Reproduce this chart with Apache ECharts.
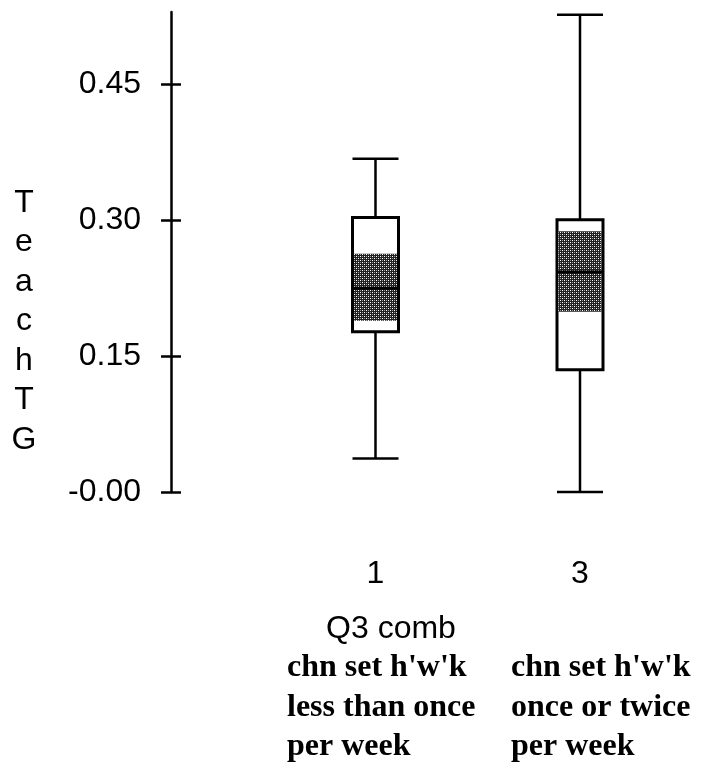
<!DOCTYPE html>
<html>
<head>
<meta charset="utf-8">
<script src="https://cdn.jsdelivr.net/npm/echarts@6/dist/echarts.min.js"></script>
<style>
  html, body { margin: 0; padding: 0; background: #fff; }
  #main { width: 715px; height: 769px; }
</style>
</head>
<body>
<div id="main"></div>
<script>
const categories = ['', '1', '3']
const whiskerLow = [0.037, 0.0]
const q1 = [0.177, 0.135]
const median = [0.225, 0.243]
const q3 = [0.303, 0.3005]
const whiskerHigh = [0.368, 0.527]
const ciLow = [0.189, 0.199]
const ciHigh = [0.263, 0.288]
const tickValues = [0, 0.15, 0.30, 0.45]
const tickLabels = ['-0.00', '0.15', '0.30', '0.45']
const groupNotes = [
  "chn set h'w'k\nless than once\nper week",
  "chn set h'w'k\nonce or twice\nper week"
]

// stippled fill for the shaded band
function stipple () {
  const c = document.createElement('canvas')
  c.width = 4
  c.height = 4
  const ctx = c.getContext('2d')
  ctx.fillStyle = '#222'
  ctx.fillRect(0, 0, 4, 4)
  ctx.fillStyle = '#fff'
  ctx.fillRect(0, 0, 1, 1)
  ctx.fillRect(2, 2, 1, 1)
  ctx.fillStyle = '#999'
  ctx.fillRect(2, 0, 1, 1)
  ctx.fillRect(0, 2, 1, 1)
  return c
}
const pattern = { image: stipple(), repeat: 'repeat' }

const rows = q1.map((v, i) => [
  categories[i + 1], whiskerLow[i], q1[i], median[i], q3[i], whiskerHigh[i], ciLow[i], ciHigh[i]
])

function renderItem (params, api) {
  const cat = api.value(0)
  const x = api.coord([cat, 0])[0]
  const y = k => api.coord([cat, api.value(k)])[1]
  const yMin = y(1)
  const yQ1 = y(2)
  const yMed = y(3)
  const yQ3 = y(4)
  const yMax = y(5)
  const yLo = y(6)
  const yHi = y(7)
  const hw = 23
  const line = { stroke: '#000', lineWidth: 2.5 }
  return {
    type: 'group',
    children: [
      { type: 'line', shape: { x1: x, y1: yMax, x2: x, y2: yQ3 }, style: line },
      { type: 'line', shape: { x1: x, y1: yQ1, x2: x, y2: yMin }, style: line },
      { type: 'line', shape: { x1: x - hw, y1: yMax, x2: x + hw, y2: yMax }, style: line },
      { type: 'line', shape: { x1: x - hw, y1: yMin, x2: x + hw, y2: yMin }, style: line },
      { type: 'rect', shape: { x: x - hw, y: yQ3, width: hw * 2, height: yQ1 - yQ3 }, style: { fill: '#fff', stroke: '#000', lineWidth: 3 } },
      { type: 'rect', shape: { x: x - hw + 1.5, y: yHi, width: hw * 2 - 3, height: yLo - yHi }, style: { fill: pattern } },
      { type: 'line', shape: { x1: x - hw, y1: yMed, x2: x + hw, y2: yMed }, style: { stroke: '#000', lineWidth: 3 } }
    ]
  }
}

const chart = echarts.init(document.getElementById('main'))
chart.setOption({
  animation: false,
  backgroundColor: '#fff',
  grid: { left: 171, width: 409, top: 12, height: 480 },
  xAxis: {
    type: 'category',
    data: categories,
    boundaryGap: false,
    axisLine: { show: false },
    axisTick: { show: false },
    splitLine: { show: false },
    axisLabel: {
      margin: 66,
      fontFamily: 'Liberation Sans',
      fontSize: 32,
      color: '#000'
    }
  },
  yAxis: [
    {
      type: 'value',
      min: 0,
      max: 0.53,
      splitLine: { show: false },
      axisLine: { show: true, lineStyle: { color: '#000', width: 2.5 } },
      axisTick: { show: true, customValues: tickValues, length: 10, lineStyle: { color: '#000', width: 2.5 } },
      axisLabel: {
        customValues: tickValues,
        margin: 30,
        fontFamily: 'Liberation Sans',
        fontSize: 32,
        color: '#000',
        formatter: v => tickLabels[tickValues.findIndex(t => Math.abs(t - v) < 1e-6)]
      }
    },
    {
      // second copy shifted right: its ticks give the inner half of each cross
      type: 'value',
      min: 0,
      max: 0.53,
      position: 'left',
      offset: -10,
      splitLine: { show: false },
      axisLine: { show: true, lineStyle: { color: 'rgba(0,0,0,0)' } },
      axisTick: { show: true, customValues: tickValues, length: 10, lineStyle: { color: '#000', width: 2.5 } },
      axisLabel: { show: true, customValues: tickValues, formatter: () => '' }
    }
  ],
  graphic: [
    {
      type: 'text',
      x: 24,
      y: 183,
      style: {
        text: 'T\ne\na\nc\nh\nT\nG',
        fontFamily: 'Liberation Sans',
        fontSize: 32,
        lineHeight: 39.5,
        align: 'center',
        fill: '#000'
      }
    },
    {
      type: 'text',
      x: 391,
      y: 629,
      style: {
        text: 'Q3 comb',
        fontFamily: 'Liberation Sans',
        fontSize: 32,
        align: 'center',
        verticalAlign: 'middle',
        fill: '#000'
      }
    },
    {
      type: 'text',
      x: 287,
      y: 648,
      style: {
        text: groupNotes[0],
        fontFamily: 'Liberation Serif',
        fontWeight: 'bold',
        fontSize: 32,
        lineHeight: 39.5,
        fill: '#000'
      }
    },
    {
      type: 'text',
      x: 511,
      y: 648,
      style: {
        text: groupNotes[1],
        fontFamily: 'Liberation Serif',
        fontWeight: 'bold',
        fontSize: 32,
        lineHeight: 39.5,
        fill: '#000'
      }
    }
  ],
  series: [
    {
      type: 'custom',
      renderItem,
      encode: { x: 0, y: [1, 2, 3, 4, 5, 6, 7] },
      data: rows
    }
  ]
})
</script>
</body>
</html>
